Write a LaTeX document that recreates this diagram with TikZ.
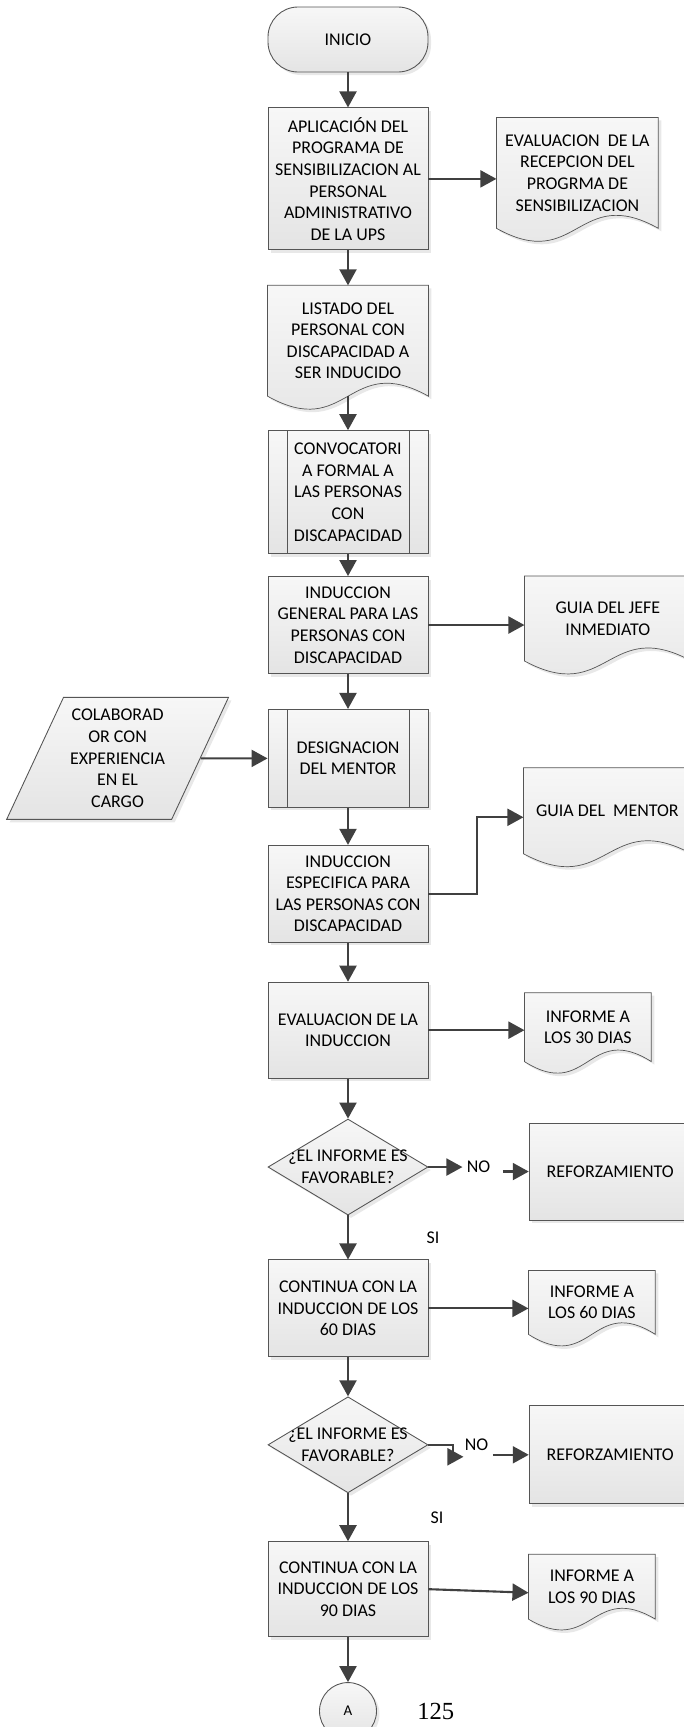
\documentclass[tikz,border=0pt]{standalone}
\usepackage{fontspec}
\setmainfont{Carlito}
\newfontfamily\numfont{Liberation Serif}
\usetikzlibrary{arrows.meta, positioning, shapes.geometric, calc, backgrounds, shadows}
\definecolor{cline}{HTML}{555555}
\definecolor{carrow}{HTML}{404040}
\definecolor{ctop}{HTML}{F7F7F7}
\definecolor{cbot}{HTML}{E4E4E4}
\tikzset{
  every picture/.style={font=\fontsize{10.2}{12.3}\selectfont, line width=0.5pt},
  boxfill/.style={draw=cline, top color=ctop, bottom color=cbot, drop shadow={shadow xshift=0.06cm, shadow yshift=-0.06cm, opacity=0.18}},
  proc/.style={boxfill, rectangle, align=center, minimum width=3.2cm, inner sep=2pt},
  subproc/.style={proc, path picture={
    \draw[cline] ([xshift=0.38cm]path picture bounding box.north west) -- ([xshift=0.38cm]path picture bounding box.south west);
    \draw[cline] ([xshift=-0.38cm]path picture bounding box.north east) -- ([xshift=-0.38cm]path picture bounding box.south east);}},
  term/.style={proc, rounded corners=0.6cm},
  decision/.style={boxfill, diamond, minimum width=3.2cm, minimum height=1.92cm, inner sep=0pt},
  doc/.style={rectangle, align=center, inner sep=2pt},
  datain/.style={boxfill, trapezium, trapezium left angle=63, trapezium right angle=117, trapezium stretches=true, minimum width=4.44cm, minimum height=2.44cm, align=center, inner sep=1pt},
  conn/.style={boxfill, circle, minimum size=1.14cm, inner sep=0pt},
  arrow/.style={-{Triangle[length=0.32cm, width=0.34cm]}, draw=carrow, line width=1.2pt},
  note/.style={inner sep=2pt},
}
\begin{document}
\begin{tikzpicture}
  \useasboundingbox (0,0) rectangle (13.68,-34.54);
  \node[term, minimum height=1.3cm] (inicio) at (6.96,-0.79) {INICIO};
  \node[proc, minimum height=2.84cm, below=0.7cm of inicio] (aplic) {APLICACIÓN DEL\\PROGRAMA DE\\SENSIBILIZACION AL\\PERSONAL\\ADMINISTRATIVO\\DE LA UPS};
  \node[doc, minimum width=3.2cm, minimum height=2.2cm, below=0.7cm of aplic] (listado) {LISTADO DEL\\PERSONAL CON\\DISCAPACIDAD A\\SER INDUCIDO};
  \node[subproc, minimum height=2.46cm, below=0.68cm of listado] (convoc) {CONVOCATORI\\A FORMAL A\\LAS PERSONAS\\CON\\DISCAPACIDAD};
  \node[proc, minimum height=1.94cm, below=0.44cm of convoc] (indgen) {INDUCCION\\GENERAL PARA LAS\\PERSONAS CON\\DISCAPACIDAD};
  \node[subproc, minimum height=1.96cm, below=0.7cm of indgen] (design) {DESIGNACION\\DEL MENTOR};
  \node[proc, minimum height=1.94cm, below=0.74cm of design] (indesp) {INDUCCION\\ESPECIFICA PARA\\LAS PERSONAS CON\\DISCAPACIDAD};
  \node[proc, minimum height=1.92cm, below=0.78cm of indesp] (evalind) {EVALUACION DE LA\\INDUCCION};
  \node[decision, below=0.8cm of evalind] (dec1) {};
  \node[note, align=center] (dec1t) at (dec1) {¿EL INFORME ES\\FAVORABLE?};
  \node[proc, minimum height=1.94cm, below=0.88cm of dec1] (cont60) {CONTINUA CON LA\\INDUCCION DE LOS\\60 DIAS};
  \node[decision, below=0.78cm of cont60] (dec2) {};
  \node[note, align=center] (dec2t) at (dec2) {¿EL INFORME ES\\FAVORABLE?};
  \node[proc, minimum height=1.9cm, below=0.96cm of dec2] (cont90) {CONTINUA CON LA\\INDUCCION DE LOS\\90 DIAS};
  \node[conn, below=0.9cm of cont90] (conA) {\fontsize{8.5}{10}\selectfont A};
  \node[note, font=\numfont\fontsize{14}{16}\selectfont, right=0.73cm of conA] (pagenum) {125};
  \node[doc, minimum width=3.22cm, minimum height=2.2cm, right=1.36cm of aplic, yshift=0.12cm] (evalrec) {EVALUACION\ \ DE LA\\RECEPCION DEL\\PROGRMA DE\\SENSIBILIZACION};
  \node[doc, minimum width=3.32cm, minimum height=1.68cm, right=1.92cm of indgen, yshift=0.13cm] (guiajefe) {GUIA DEL JEFE\\INMEDIATO};
  \node[datain, left=1.34cm of design] (colab) {COLABORAD\\OR CON\\EXPERIENCIA\\EN EL\\CARGO};
  \node[doc, minimum width=3.34cm, minimum height=1.7cm, right=1.9cm of indesp, yshift=1.66cm] (guiamentor) {GUIA DEL\ \ MENTOR};
  \node[doc, minimum width=2.52cm, minimum height=1.36cm, right=1.92cm of evalind, yshift=0.06cm] (inf30) {INFORME A\\LOS 30 DIAS};
  \node[note, inner sep=0.08cm, right=0.68cm of dec1] (no1) {NO};
  \node[proc, minimum width=3.24cm, minimum height=1.94cm, right=0.68cm of no1, yshift=-0.09cm] (ref1) {REFORZAMIENTO};
  \node[doc, minimum width=2.52cm, minimum height=1.26cm, right=2cm of cont60, yshift=0.12cm] (inf60) {INFORME A\\LOS 60 DIAS};
  \node[note, inner sep=0.08cm, right=0.64cm of dec2] (no2) {NO};
  \node[proc, minimum width=3.24cm, minimum height=1.96cm, right=0.72cm of no2, yshift=-0.2cm] (ref2) {REFORZAMIENTO};
  \node[doc, minimum width=2.52cm, minimum height=1.28cm, right=2cm of cont90, yshift=0.05cm] (inf90) {INFORME A\\LOS 90 DIAS};
  \begin{scope}[on background layer]
    \foreach \n/\b in {evalrec/0.9cm, listado/0.9cm, guiajefe/0.9cm, guiamentor/0.9cm, inf30/0.8cm, inf60/0.8cm, inf90/0.75cm}
      \path[boxfill] (\n.north west) -- (\n.north east) -- (\n.south east) .. controls ([yshift=\b]\n.south) and ([yshift=-\b]\n.south) .. (\n.south west) -- cycle;
  \end{scope}
  \draw[arrow] (inicio) -- (aplic);
  \draw[arrow] (aplic) -- (listado);
  \draw[arrow] (listado) -- (convoc);
  \draw[arrow] (convoc) -- (indgen);
  \draw[arrow] (indgen) -- (design);
  \draw[arrow] (design) -- (indesp);
  \draw[arrow] (indesp) -- (evalind);
  \draw[arrow] (evalind) -- (dec1);
  \draw[arrow] (dec1) -- node[note, right=1.48cm] (si1) {SI} (cont60);
  \draw[arrow] (cont60) -- (dec2);
  \draw[arrow] (dec2) -- node[note, right=1.56cm] (si2) {SI} (cont90);
  \draw[arrow] (cont90) -- (conA);
  \draw[arrow] (aplic.east) -- (aplic.east -| evalrec.west);
  \draw[arrow] (indgen.east) -- (indgen.east -| guiajefe.west);
  \draw[arrow] (colab) -- (design);
  \draw[arrow] (indesp.east) -- ++(0.98,0) |- ([yshift=-0.13cm]guiamentor.west);
  \draw[arrow] (evalind.east) -- (evalind.east -| inf30.west);
  \draw[arrow] (dec1) -- (no1);
  \draw[arrow] ([xshift=0.16cm]no1.east |- ref1) -- (ref1);
  \draw[arrow] (cont60.east) -- (cont60.east -| inf60.west);
  \draw[arrow] (dec2.east) -| ([xshift=-0.14cm, yshift=-0.24cm]no2.west) -- ([xshift=0.06cm, yshift=-0.24cm]no2.west);
  \draw[arrow] (no2.east |- ref2) -- (ref2);
  \draw[arrow] (cont90.east) -- ([yshift=-0.12cm]inf90.west);
\end{tikzpicture}
\end{document}
